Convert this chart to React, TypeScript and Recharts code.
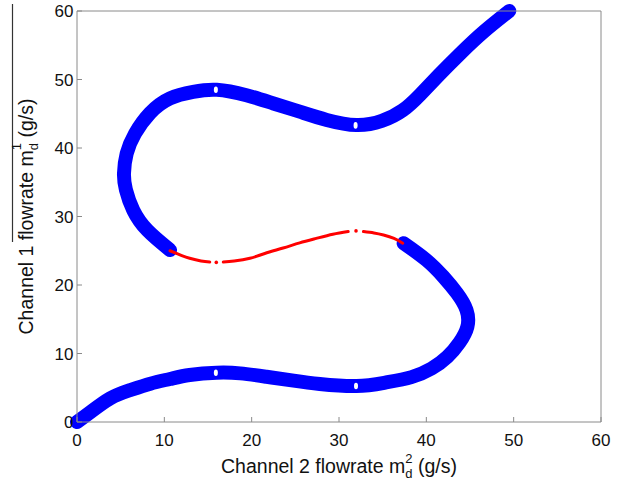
import { ComposedChart, Line, Scatter, XAxis, YAxis, Label } from 'recharts';

const FONT = '"Liberation Sans", Arial, Helvetica, sans-serif';
const AXIS = '#8a8a8a';
const BLUE = '#0000ff';
const RED = '#ff0000';

const xTicks = [0, 10, 20, 30, 40, 50, 60];
const yTicks = [0, 10, 20, 30, 40, 50, 60];

// stable branches (blue)
const lowerBranch = [
  { x: 0, y: 0 }, { x: 1.5, y: 1.4 }, { x: 3.8, y: 3.45 }, { x: 6.1, y: 4.67 },
  { x: 8.4, y: 5.6 }, { x: 10.65, y: 6.28 }, { x: 12.9, y: 6.86 }, { x: 16, y: 7.2 },
  { x: 18.7, y: 7.1 }, { x: 21.7, y: 6.6 }, { x: 24.8, y: 6.03 }, { x: 27.8, y: 5.55 },
  { x: 32, y: 5.25 }, { x: 35.3, y: 5.75 }, { x: 38.3, y: 6.55 }, { x: 40.6, y: 7.8 },
  { x: 42.4, y: 9.5 }, { x: 43.8, y: 11.6 }, { x: 44.7, y: 13.9 }, { x: 44.6, y: 16.35 },
  { x: 43.5, y: 18.8 }, { x: 41.95, y: 21.2 }, { x: 40, y: 23.65 }, { x: 37.4, y: 26.1 },
];
const upperBranch = [
  { x: 10.65, y: 25.1 }, { x: 8.05, y: 28 }, { x: 6.45, y: 30.9 }, { x: 5.6, y: 33.9 },
  { x: 5.38, y: 36.3 }, { x: 5.69, y: 39.2 }, { x: 6.64, y: 42.1 }, { x: 8.36, y: 45.1 },
  { x: 10.65, y: 47.25 }, { x: 13.3, y: 48.2 }, { x: 16, y: 48.5 }, { x: 19.4, y: 47.7 },
  { x: 22.5, y: 46.5 }, { x: 25.5, y: 45.3 }, { x: 28.6, y: 44.1 }, { x: 32, y: 43.35 },
  { x: 34.9, y: 43.95 }, { x: 37.3, y: 45.5 }, { x: 39.3, y: 47.8 }, { x: 41.4, y: 50.6 },
  { x: 43.9, y: 53.8 }, { x: 46.6, y: 57 }, { x: 49.5, y: 60 },
];

// unstable branch (red), sparse near x=16 and x=32
const unstableA = [
  { x: 10.65, y: 25 }, { x: 12, y: 24.3 }, { x: 12.9, y: 23.9 }, { x: 14.2, y: 23.5 }, { x: 15.2, y: 23.35 },
];
const unstableB = [
  { x: 16.75, y: 23.35 }, { x: 18, y: 23.5 }, { x: 19.8, y: 23.9 }, { x: 21.5, y: 24.6 },
  { x: 23.6, y: 25.4 }, { x: 25.5, y: 26.15 }, { x: 27.4, y: 26.8 }, { x: 29.3, y: 27.4 }, { x: 31.05, y: 27.8 },
];
const unstableC = [
  { x: 32.8, y: 27.8 }, { x: 34, y: 27.6 }, { x: 35.1, y: 27.3 }, { x: 36.3, y: 26.8 }, { x: 37.3, y: 26.1 },
];
const unstableDots = [{ x: 15.95, y: 23.3 }, { x: 31.95, y: 27.9 }];

// holes in the blue band where the samples thin out
const sparseSpots = [
  { x: 15.9, y: 48.5 }, { x: 31.9, y: 43.3 }, { x: 15.9, y: 7.2 }, { x: 31.95, y: 5.25 },
];

const BottomTick = ({ x, y, payload }: any) => (
  <g>
    <line x1={x} y1={y} x2={x} y2={y - 5} stroke={AXIS} />
    <text x={x} y={y + 24} textAnchor="middle" fontSize={17} fill="#111" fontFamily={FONT}>
      {payload.value}
    </text>
  </g>
);
const LeftTick = ({ x, y, payload }: any) => (
  <g>
    <line x1={x} y1={y} x2={x + 5} y2={y} stroke={AXIS} />
    <text x={x - 3.5} y={y + 6} textAnchor="end" fontSize={17} fill="#111" fontFamily={FONT}>
      {payload.value}
    </text>
  </g>
);
const TopTick = ({ x, y }: any) => <line x1={x} y1={y} x2={x} y2={y + 5} stroke={AXIS} />;
const RightTick = ({ x, y }: any) => <line x1={x} y1={y} x2={x - 5} y2={y} stroke={AXIS} />;

const XLabel = ({ viewBox }: any) => {
  const cx = viewBox.x + viewBox.width / 2;
  return (
    <text x={cx} y={viewBox.y + 51} textAnchor="middle" fontSize={19.5} fill="#111" fontFamily={FONT}>
      Channel 2 flowrate m
      <tspan fontSize={13} dy={5}>d</tspan>
      <tspan fontSize={13} dx={-7.2} dy={-15}>2</tspan>
      <tspan dy={10}>{' (g/s)'}</tspan>
    </text>
  );
};

const YLabel = ({ viewBox }: any) => {
  const cy = viewBox.y + viewBox.height / 2;
  const bx = viewBox.x + 33;
  return (
    <g>
      <line x1={12.5} y1={4} x2={12.5} y2={242} stroke="#333" strokeWidth={1.2} />
      <text
        transform={`translate(${bx},${cy}) rotate(-90)`}
        textAnchor="middle"
        fontSize={19.5}
        fill="#111"
        fontFamily={FONT}
      >
        Channel 1 flowrate m
        <tspan fontSize={13} dy={5}>d</tspan>
        <tspan fontSize={13} dx={-7.2} dy={-17}>1</tspan>
        <tspan dy={12}>{' (g/s)'}</tspan>
      </text>
    </g>
  );
};

const holeShape = (p: any) => <ellipse cx={p.cx} cy={p.cy} rx={2} ry={3.3} fill="#fff" />;
const redDotShape = (p: any) => <circle cx={p.cx} cy={p.cy} r={1.8} fill={RED} />;

export default function App() {
  const blue = { stroke: BLUE, strokeWidth: 14, strokeLinecap: 'round' as const, strokeLinejoin: 'round' as const };
  const red = { stroke: RED, strokeWidth: 3, strokeLinecap: 'round' as const };
  return (
    <div style={{ position: 'absolute', left: 0, top: 0, width: 628, height: 486, background: '#fff' }}>
      <ComposedChart width={628} height={486} margin={{ top: 10, right: 26, bottom: 0, left: 0 }}>
        <XAxis
          xAxisId="b"
          type="number"
          dataKey="x"
          domain={[0, 60]}
          ticks={xTicks}
          interval={0}
          height={64}
          tickSize={0}
          tickMargin={0}
          tickLine={false}
          tick={<BottomTick />}
          axisLine={{ stroke: AXIS }}
        >
          <Label content={<XLabel />} />
        </XAxis>
        <XAxis
          xAxisId="t"
          orientation="top"
          type="number"
          dataKey="x"
          domain={[0, 60]}
          ticks={xTicks}
          interval={0}
          height={1}
          tickSize={0}
          tickMargin={0}
          tickLine={false}
          tick={<TopTick />}
          axisLine={{ stroke: AXIS }}
        />
        <YAxis
          yAxisId="l"
          type="number"
          dataKey="y"
          domain={[0, 60]}
          ticks={yTicks}
          interval={0}
          width={77}
          tickSize={0}
          tickMargin={0}
          tickLine={false}
          tick={<LeftTick />}
          axisLine={{ stroke: AXIS }}
        >
          <Label content={<YLabel />} />
        </YAxis>
        <YAxis
          yAxisId="r"
          orientation="right"
          type="number"
          dataKey="y"
          domain={[0, 60]}
          ticks={yTicks}
          interval={0}
          width={1}
          tickSize={0}
          tickMargin={0}
          tickLine={false}
          tick={<RightTick />}
          axisLine={{ stroke: AXIS }}
        />
        <Line data={lowerBranch} dataKey="y" xAxisId="b" yAxisId="l" type="natural" {...blue} dot={false} activeDot={false} isAnimationActive={false} />
        <Line data={upperBranch} dataKey="y" xAxisId="b" yAxisId="l" type="natural" {...blue} dot={false} activeDot={false} isAnimationActive={false} />
        <Line data={unstableA} dataKey="y" xAxisId="b" yAxisId="l" type="natural" {...red} dot={false} activeDot={false} isAnimationActive={false} />
        <Line data={unstableB} dataKey="y" xAxisId="b" yAxisId="l" type="natural" {...red} dot={false} activeDot={false} isAnimationActive={false} />
        <Line data={unstableC} dataKey="y" xAxisId="b" yAxisId="l" type="natural" {...red} dot={false} activeDot={false} isAnimationActive={false} />
        <Scatter data={unstableDots} dataKey="y" xAxisId="b" yAxisId="l" shape={redDotShape} isAnimationActive={false} />
        <Scatter data={sparseSpots} dataKey="y" xAxisId="b" yAxisId="l" shape={holeShape} isAnimationActive={false} />
      </ComposedChart>
    </div>
  );
}
